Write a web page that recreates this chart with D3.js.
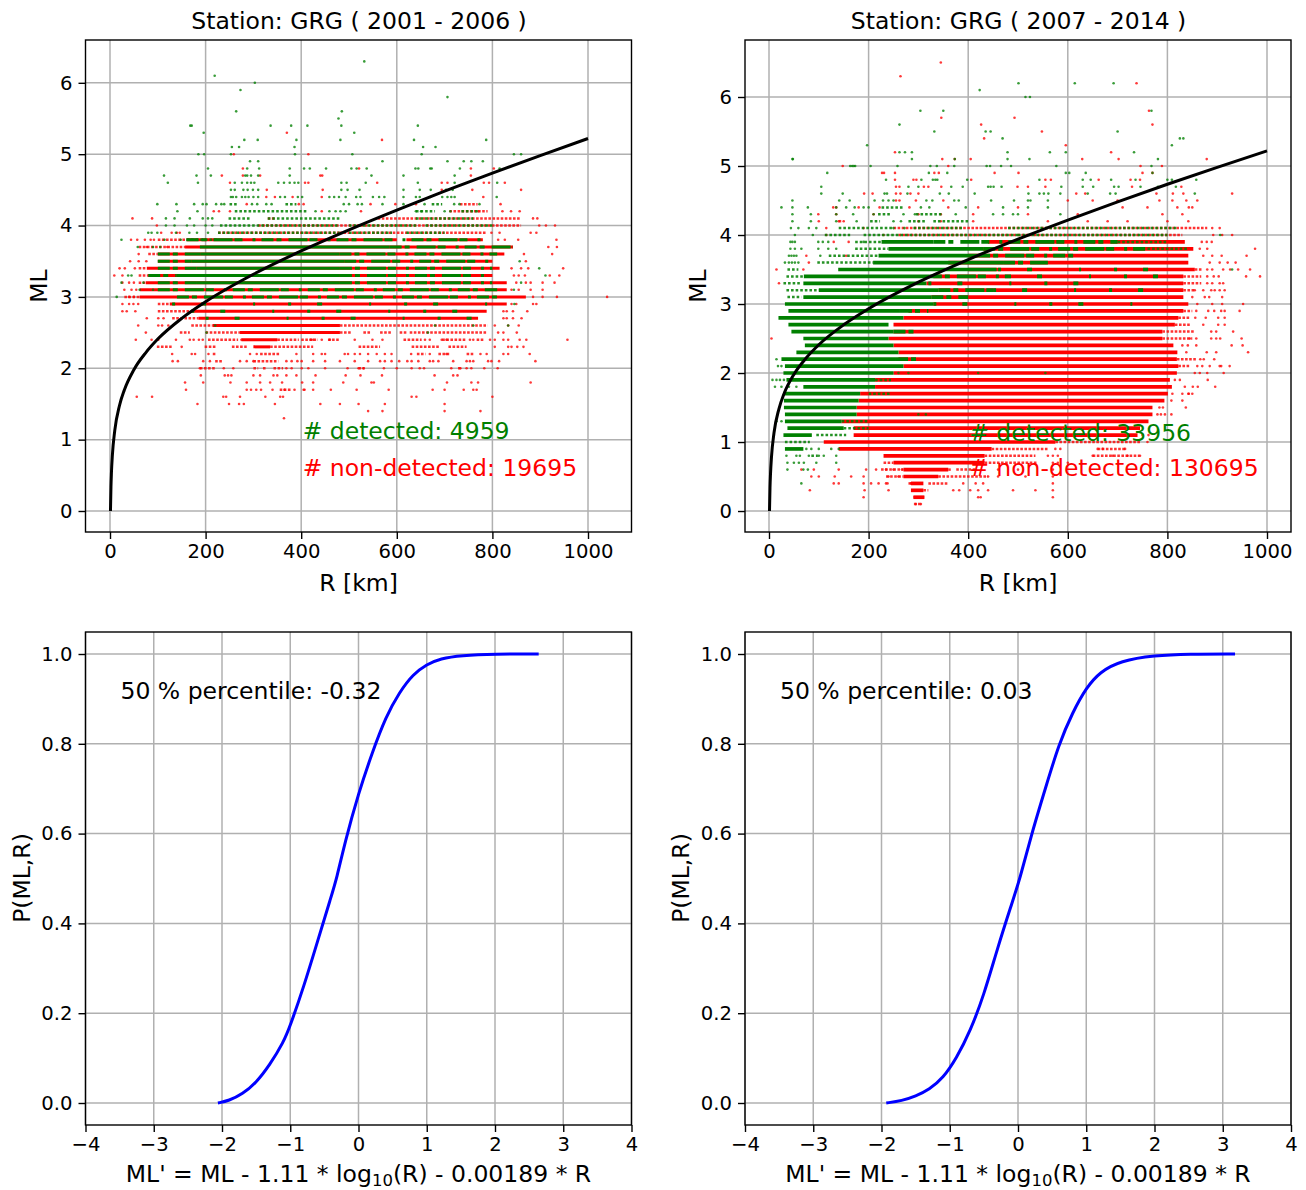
<!DOCTYPE html>
<html><head><meta charset="utf-8"><script src="https://cdn.jsdelivr.net/npm/d3@7"></script>
<style>html,body{margin:0;background:#fff}svg{display:block}text{font-family:"DejaVu Sans",sans-serif}</style></head>
<body><div id="c"></div><script>
// ---- curves
const thresholdR=[1,2,3,5,10,20,30,50,75,100,150,200,300,400,500,600,700,800,900,1000];
const thresholdML=[0,.338,.535,.785,1.13,1.482,1.696,1.98,2.22,2.409,2.699,2.932,3.317,3.644,3.94,4.217,4.481,4.735,4.98,5.22];
const cdfXA=[-2.06,-1.9,-1.7,-1.5,-1.3,-1.1,-1,-.8,-.6,-.4,-.32,-.2,0,.2,.4,.6,.8,1,1.2,1.5,2,2.64];
const cdfPA=[0,.005,.02,.045,.085,.135,.172,.26,.36,.46,.5,.58,.69,.78,.86,.915,.955,.977,.99,.997,1,1];
const cdfXB=[-1.93,-1.7,-1.5,-1.3,-1.1,-.9,-.7,-.5,-.3,-.1,.03,.2,.4,.6,.8,1,1.2,1.5,2,2.5,3.18];
const cdfPB=[0,.005,.015,.03,.055,.1,.16,.24,.345,.44,.5,.6,.7,.8,.87,.925,.96,.985,.997,1,1];
const titles=["Station: GRG ( 2001 - 2006 )","Station: GRG ( 2007 - 2014 )"];
const countLabels=[["# detected: 4959","# non-detected: 19695"],["# detected: 33956","# non-detected: 130695"]];
const percentileLabels=["50 % percentile: -0.32","50 % percentile: 0.03"];
const rTicks=[0,200,400,600,800,1000], mlTicksA=[0,1,2,3,4,5,6], mlTicksB=[0,1,2,3,4,5,6];
const pTicks=[0,.2,.4,.6,.8,1], xTicks=[-4,-3,-2,-1,0,1,2,3,4];

// ---- panel A, 2001-2006: [ML, R start, R end] solid runs
const solidRedA=[[3.8,160,600],[3.8,620,780],[3.7,157,843],[3.6,100,825],[3.5,100,800],[3.4,77,815],[3.3,80,800],[3.2,75,830],[3.1,62,830],[3.0,62,870],[2.9,125,830],[2.8,170,788],[2.7,185,770],[2.6,215,481],[2.5,272,481],[2.4,275,350],[2.3,300,335]];
const solidGreenA=[[3.7,188,585],[3.6,190,480],[3.5,170,490],[3.4,181,481],[3.3,139,481],[3.2,180,481]];
const mixGreenA=[[3.8,160,780],[3.7,585,843],[3.6,100,190],[3.6,480,810],[3.5,100,170],[3.5,490,800],[3.4,100,181],[3.4,481,800],[3.3,80,139],[3.3,481,790],[3.2,100,180],[3.2,481,800],[3.1,100,810],[3.0,140,820]];
const speckGreenA=[[2.9,130,830],[2.8,170,780],[2.7,200,760]];
// loose runs of closely packed dots
const looseRedA=[[4.3,732,769],[4.2,710,790],[4.1,330,345],[4.1,560,860],[4.0,310,860],[3.9,226,480],[3.9,480,788],[3.8,100,160],[3.7,60,157],[3.6,80,100],[3.4,60,77],[3.3,60,80],[3.2,60,75],[3.0,30,62],[2.9,100,125],[2.8,100,170],[2.7,130,185],[2.6,170,215],[2.6,481,790],[2.5,146,167],[2.5,200,272],[2.5,481,506],[2.5,530,545],[2.5,565,590],[2.5,606,620],[2.5,627,788],[2.4,205,268],[2.4,350,395],[2.4,400,435],[2.4,456,480],[2.4,614,652],[2.4,695,746],[2.4,767,781],[2.3,98,129],[2.3,198,222],[2.3,255,286],[2.3,335,425],[2.3,520,565],[2.3,631,690],[2.3,708,746],[2.2,215,222],[2.2,314,356],[2.2,642,660],[2.2,687,711],[2.2,746,760],[2.1,220,237],[2.1,300,352],[2.0,188,220],[2.0,300,310],[2.0,320,328],[2.0,342,362],[2.0,520,533],[2.0,728,735],[1.7,355,380]];
const looseGreenA=[[4.3,250,268],[4.3,367,390],[4.3,673,695],[4.2,261,415],[4.2,640,680],[4.2,735,770],[4.1,248,294],[4.1,330,480],[4.1,640,760],[4.0,230,480],[4.0,500,640],[4.0,660,800],[3.9,226,480],[3.9,500,590],[3.9,620,700],[3.8,160,226]];
const dotsGreenA=[[6.3,[532]],[6.1,[219]],[6.0,[303]],[5.9,[273]],[5.8,[706]],[5.6,[264,485]],[5.5,[478]],[5.4,[168,171,336,379,413,484,644]],[5.3,[196,511]],[5.2,[281,309,390,482,636,787]],[5.1,[255,270,386,655,681]],[5.0,[185,197,253,387,507,652,845,860]],[4.9,[293,310,570,706,740,756,780]],[4.8,[205,287,312,376,406,418,452,505,516,537,639,645,670,673,732,815]],[4.7,[113,181,211,283,287,295,310,376,547,614,721]],[4.6,[121,184,261,276,287,295,302,352,364,376,386,394,484,495,535,644,721,810]],[4.5,[253,261,279,288,299,310,484,497,522,614,648,671,703,717]],[4.4,[253,257,264,276,283,290,300,310,356,366,393,402,459,469,479,493,515,524,550,563,574,614,640,648,670,695,706,714,721,809]],[4.3,[99,139,176,194,202,222,233,239,297,308,327,338,489,500,518,527,570,614,658,720,731,773]],[4.2,[141,183,430,459,472,482,493,640,651,700,712]],[4.1,[117,135,167,194,205,214]],[4.0,[117,135,161,176,200,214]],[3.9,[80,87,99,138,166,182,205]],[3.8,[24,114,148]],[3.7,[58,90,105]],[3.5,[857]],[3.4,[898]],[3.3,[38,45,911]],[3.2,[24,70,860]],[3.1,[62,90,845]],[3.0,[14]],[2.9,[846]],[2.6,[220,680,760,833]],[2.5,[202,665]]];
const dotsRedA=[[5.3,[370]],[5.2,[569]],[5.0,[259,415]],[4.8,[278,521,755,803]],[4.7,[234,278,314,440,444,755]],[4.6,[251,408,415,559,694,706,782,793,826]],[4.5,[328,445,694,758,860]],[4.4,[327,345,382,443,781]],[4.3,[286,395,405,545,597,640,817]],[4.2,[217,228,251,443,525,771,821,839,857]],[4.1,[47,88,885,894]],[4.0,[98,898,912,931]],[3.9,[107,129,140,146,798,815,880,892]],[3.8,[44,57,73,85,92,812,826,854,934]],[3.7,[77,120,917,935]],[3.6,[60,866,925]],[3.5,[42,60,76,870]],[3.4,[20,31,52,840,860,875,948]],[3.3,[9,26,845,855,868,920,940]],[3.2,[26,40,50,850,870,880,905,930]],[3.1,[30,45,55,840,855,880,905]],[3.0,[40,50,885,905,935,1040]],[2.9,[26,40,49,59,840,850,885,892]],[2.8,[26,35,53,823,830,843,873]],[2.7,[77,101,112,823,830,843,861]],[2.6,[59,101,109,122,805,833,855]],[2.5,[75,812,823,851]],[2.4,[54,87,101,138,167,175,186,194,275,420,425,443,460,512,549,570,659,669,694,704,753,760,795,805,823,833,857,871,957]],[2.3,[150,805,833,840,852,865]],[2.2,[130,171,178,206,307,293,390,425,443,450,491,498,512,523,540,558,575,589,630,669,704,775,788,823,833,878]],[2.1,[131,142,195,209,272,286,300,369,380,392,401,425,450,481,512,540,565,575,589,605,622,631,645,669,676,687,718,746,753,760,791,798,814,890]],[2.0,[188,238,258,369,380,401,415,450,497,520,530,573,600,631,648,657,714,733,746,756,783,811]],[1.9,[190,240,247,254,300,314,342,350,369,390,430,493,524,569,679,718,727]],[1.8,[157,195,252,286,314,335,360,402,425,488,547,552,705,756,770,880]],[1.7,[159,286,295,306,316,340,365,386,405,407,425,462,516,583,675,700,740,760,767]],[1.6,[56,88,237,243,272,325,356,362,631,641,800]],[1.5,[183,249,270,280,345,440,481,520,575,700]],[1.4,[540,570,700,775]],[1.3,[364]]];

// ---- panel B, 2007-2014
const solidRedB=[[3.9,440,835],[3.8,430,852],[3.7,400,842],[3.6,360,842],[3.5,400,855],[3.4,330,832],[3.3,316,832],[3.2,340,832],[3.1,326,832],[3.0,330,842],[2.9,280,832],[2.8,270,822],[2.7,250,815],[2.6,250,790],[2.5,240,790],[2.4,250,812],[2.3,260,820],[2.2,260,819],[2.1,270,822],[2.0,250,819],[1.9,213,805],[1.8,213,809],[1.7,183,801],[1.6,180,794],[1.5,176,770],[1.4,176,770],[1.3,146,762],[1.2,170,745],[1.1,170,740],[1.0,110,575],[0.9,140,447],[0.8,230,433],[0.7,250,433],[0.6,270,360],[0.5,270,340],[0.4,285,310],[0.3,285,310],[0.2,290,312]];
const solidGreenB=[[3.9,226,330],[3.8,240,430],[3.7,220,420],[3.6,209,470],[3.5,139,457],[3.4,70,323],[3.3,69,316],[3.2,100,340],[3.1,69,326],[3.0,32,330],[2.9,39,263],[2.8,19,270],[2.7,39,240],[2.6,45,250],[2.5,69,240],[2.4,72,250],[2.3,55,260],[2.2,25,255],[2.1,32,270],[2.0,29,250],[1.9,35,213],[1.8,69,213],[1.7,29,183],[1.6,30,180],[1.5,30,176],[1.4,32,176],[1.3,32,146],[1.2,37,150],[1.1,29,86],[0.9,32,69]];
const mixGreenB=[[3.9,330,700],[3.8,430,760],[3.7,420,620],[3.6,470,560],[3.4,323,480],[3.2,340,450],[3.1,326,400],[2.9,263,320],[2.6,250,300],[2.2,255,300]];
const speckGreenB=[[3.5,460,830],[3.4,480,830],[3.3,320,700],[3.2,450,820],[3.0,330,760]];
const looseRedB=[[4.2,140,145],[4.1,250,880],[4.0,260,830],[3.5,855,870],[3.4,832,868],[3.3,832,868],[3.2,832,855],[2.9,832,850],[2.8,822,845],[2.7,815,845],[2.6,790,855],[2.5,790,850],[2.2,819,860],[2.1,822,845],[1.0,575,745],[0.9,447,560],[0.9,660,715],[0.8,433,535],[0.8,650,744],[0.7,433,540],[0.7,230,250],[0.6,225,270],[0.6,360,365],[0.6,376,415],[0.5,340,440],[0.5,235,270],[0.4,280,285],[0.4,320,360],[0.3,310,320],[0.2,290,312],[0.1,291,306]];
const looseGreenB=[[4.4,226,270],[4.3,219,244],[4.3,295,350],[4.2,203,223],[4.2,280,313],[4.2,330,400],[4.1,140,250],[4.1,290,390],[4.1,480,820],[4.0,112,163],[4.0,190,500],[4.0,500,800],[3.9,173,226],[3.9,700,800],[3.8,173,240],[3.8,760,840],[3.7,120,220],[3.6,97,209],[3.5,37,59],[3.4,35,70],[3.3,29,65],[3.2,35,100],[3.1,37,65],[1.9,213,245],[1.7,200,245],[1.3,146,200],[1.2,150,200],[1.1,95,155],[1.0,32,82],[0.8,85,98]];
const dotsGreenB=[[6.2,[501,614,692]],[6.1,[423]],[6.0,[515,524]],[5.8,[304,350,768]],[5.6,[262]],[5.5,[332,435,445,700]],[5.4,[469,825,832]],[5.3,[197,809]],[5.2,[262,273,287,479,564,596,733]],[5.1,[47,48,287,373,479,523,781]],[5.0,[163,167,170,173,204,258,324,337,372,437,444,466,486,577,768]],[4.9,[117,321,358,596,603,636,770]],[4.8,[235,306,329,334,338,398,543,630,646,687,736,800,809,858]],[4.7,[105,280,300,366,389,440,445,451,467,587,630,651,693,702,746,781,817]],[4.6,[105,148,232,237,278,343,361,413,521,543,552,561,585,640,685,696,855]],[4.5,[47,141,162,212,229,240,250,316,328,372,381,446,492,520,525,560]],[4.4,[25,47,78,135,155,172,190,200,305,322,395,470,520,560]],[4.3,[47,84,135,169,210,270,293,375,450,470,490,500,585]],[4.2,[47,84,135,176,250,265]],[4.1,[44,59,80,95,250,272]],[4.0,[52,88,906]],[3.9,[43,47,52,99,108,119,190]],[3.8,[43,52,65,99,119,135]],[3.7,[40,45,50,55,103]],[3.6,[32,40,46,52,59]],[3.5,[930]],[2.2,[15,30,46]],[2.1,[18,25]],[1.9,[7,15,22,30]],[1.8,[12,25,40,55]],[1.3,[15,25]],[0.9,[75,85,100,125,140]],[0.8,[35,55,62,80,100,110,135]],[0.7,[37,50,60,70,95,135]],[0.6,[37,69,78]],[0.4,[65]],[2.0,[260,280,420,555]],[1.4,[300,315]]];
const dotsRedB=[[6.5,[345]],[6.3,[264]],[6.2,[738]],[5.8,[763]],[5.7,[346,493]],[5.6,[426,770]],[5.5,[548]],[5.4,[432]],[5.3,[596]],[5.2,[253,687]],[5.1,[348,373,405,629,702,879]],[5.0,[148,360,746,789]],[4.9,[227,231,253,332,341,453,501,750,770]],[4.8,[253,290,296,406,555,566,662,726,745]],[4.7,[255,262,311,320,346,499,520,555,729,828]],[4.6,[191,208,255,264,284,300,617,635,778,811,832,930]],[4.5,[255,262,295,350,600,650,700,784,810,838,860]],[4.4,[129,135,180,222,282,360,420,500,710,760,820,843,850]],[4.3,[99,135,210,300,345,410,520,620,790,830]],[4.2,[100,150,140,300,345,410,560,640,680,720,800,842]],[4.1,[115,190,890,905]],[4.0,[115,230,892,910,930]],[3.9,[130,160,869,879,889]],[3.8,[865,976,880]],[3.7,[75,155,872,890,909,959]],[3.6,[80,885,905,921,937]],[3.5,[15,69,880,890,912,926,942,966]],[3.4,[880,893,903,958,986]],[3.3,[20,880,890,905,912]],[3.2,[855,872,888,895,905,915]],[3.1,[850,875,884,910]],[3.0,[860,890,910,952]],[2.9,[858,882,894,908,915,945]],[2.8,[856,877,902,915]],[2.7,[872,902,915]],[2.6,[888,898,932]],[2.5,[5,845,858,888,898,906,949]],[2.4,[830,841,858,929,951]],[2.3,[838,879,898,962]],[2.2,[866,873,894]],[2.1,[860,870,885,905,908,925]],[2.0,[855,865,880,913]],[1.9,[815,825,881]],[1.8,[835,851,861,896]],[1.7,[810,830,843,842,850]],[1.6,[808,830]],[1.5,[784,791,837]],[1.4,[795,808,787,780]],[1.1,[750,762]],[1.0,[760]],[0.9,[575,585,660,670,715]],[0.8,[560,570,580,650,690,720,745]],[0.7,[570,580,600]],[0.6,[65,90,140,195,215,235,250,267,290,460,500,570]],[0.5,[85,100,132,165,190,240,260,290,440,460,515,570]],[0.4,[130,140,190,205,220,235,238,285,390,415,430,570]],[0.3,[82,192,240,370,382,404,420,440,490,535,570]],[0.2,[190,420,425,570]],[0.1,[295,305]]];

const W=1306,H=1190,fs=19.6,fl=23.5;
const svg=d3.select("#c").append("svg").attr("width",W).attr("height",H);
let cid=0;
function makeFrame(box,xs,ys,xt,yt,xf,yf){
  const g=svg.append("g"),id="c"+(cid++);
  g.append("clipPath").attr("id",id).append("rect").attr("x",box.l).attr("y",box.t).attr("width",box.r-box.l).attr("height",box.b-box.t);
  const grid=g.append("g").attr("stroke","#b0b0b0").attr("stroke-width",1.5);
  xt.forEach(v=>grid.append("line").attr("x1",xs(v)).attr("x2",xs(v)).attr("y1",box.t).attr("y2",box.b));
  yt.forEach(v=>grid.append("line").attr("y1",ys(v)).attr("y2",ys(v)).attr("x1",box.l).attr("x2",box.r));
  const plot=g.append("g").attr("clip-path",`url(#${id})`);
  const ax=g.append("g").attr("class","ax");
  const style=(s)=>{s.select(".domain").remove();s.selectAll("line").attr("stroke","#000").attr("stroke-width",1.4);s.selectAll("text").attr("font-size",fs).attr("font-family",'"DejaVu Sans"').attr("fill","#000");};
  ax.append("g").attr("transform",`translate(0,${box.b})`).call(d3.axisBottom(xs).tickValues(xt).tickFormat(xf).tickSize(7).tickPadding(5)).call(style);
  ax.append("g").attr("transform",`translate(${box.l},0)`).call(d3.axisLeft(ys).tickValues(yt).tickFormat(yf).tickSize(7).tickPadding(6)).call(style);
  ax.append("rect").attr("x",box.l).attr("y",box.t).attr("width",box.r-box.l).attr("height",box.b-box.t).attr("fill","none").attr("stroke","#000").attr("stroke-width",1.4);
  return {g,plot};
}
function drawScatter(p,xs,ys,s,bw){
  const bands=(d,col,w,dash,op)=>p.append("g").selectAll("line").data(d).join("line")
    .attr("x1",a=>xs(a[1])).attr("x2",a=>xs(a[2])).attr("y1",a=>ys(a[0])).attr("y2",a=>ys(a[0]))
    .attr("stroke",col).attr("stroke-width",w).attr("stroke-dasharray",dash).attr("opacity",op);
  const dots=(d,col)=>p.append("g").attr("fill",col).selectAll("circle").data(d.flatMap(r=>r[1].map(x=>[r[0],x]))).join("circle")
    .attr("cx",a=>xs(a[1])).attr("cy",a=>ys(a[0])).attr("r",1.3).attr("opacity",.78);
  bands(s.lr,"#ff0000",2.5,"2.6 1.5",.8);
  bands(s.sr,"#ff0000",bw,null,1);
  dots(s.dr,"#ff0000");
  bands(s.lg,"#008000",2.5,"2.6 2",.85);
  bands(s.sg,"#008000",bw,null,1);
  bands(s.mg,"#008000",bw,"12 3 5 7 19 2 8 10 3 6",1);
  bands(s.kg,"#008000",bw,"3 26 5 47 2 33",1);
  dots(s.dg,"#008000");
}
const fmt1=d3.format(".1f"), neg=v=>String(v).replace("-","\u2212");
function topPanel(i,box,domY,yt,sets,bw){
  const xs=d3.scaleLinear().domain([(box.l-box.x0)/box.k,(box.r-box.x0)/box.k]).range([box.l,box.r]);
  const ys=d3.scaleLinear().domain(domY).range([box.b,box.t]);
  const {g,plot}=makeFrame(box,xs,ys,rTicks,yt,d3.format("d"),d3.format("d"));
  drawScatter(plot,xs,ys,sets,bw);
  plot.append("path").datum(d3.zip(thresholdR,thresholdML)).attr("fill","none").attr("stroke","#000").attr("stroke-width",3)
    .attr("d",d3.line().x(d=>xs(d[0])).y(d=>ys(d[1])).curve(d3.curveMonotoneX));
  g.append("text").attr("x",(box.l+box.r)/2+0.5).attr("y",29).attr("text-anchor","middle").attr("font-size",fl).text(titles[i]);
  g.append("text").attr("x",(box.l+box.r)/2).attr("y",591).attr("text-anchor","middle").attr("font-size",fl).text("R [km]");
  g.append("text").attr("transform",`translate(${box.l-39},286) rotate(-90)`).attr("text-anchor","middle").attr("font-size",fl).text("ML");
  const tx=xs(i?402:403);
  g.append("text").attr("x",tx).attr("y",i?441:439).attr("fill","#008000").attr("font-size",fl).text(countLabels[i][0]);
  g.append("text").attr("x",tx).attr("y",476).attr("fill","#ff0000").attr("font-size",fl).text(countLabels[i][1]);
}
function bottomPanel(i,box,cx,cp){
  const xs=d3.scaleLinear().domain([-4,4]).range([box.l,box.r]);
  const ys=d3.scaleLinear().domain([(1103-box.b)/449,(1103-box.t)/449]).range([box.b,box.t]);
  const {g,plot}=makeFrame(box,xs,ys,xTicks,pTicks,neg,fmt1);
  plot.append("path").datum(d3.zip(cx,cp)).attr("fill","none").attr("stroke","#0000ff").attr("stroke-width",3)
    .attr("d",d3.line().x(d=>xs(d[0])).y(d=>ys(d[1])).curve(d3.curveBasis));
  g.append("text").attr("x",box.l+35).attr("y",699).attr("font-size",fl).text(percentileLabels[i]);
  g.append("text").attr("transform",`translate(${box.l-56},878) rotate(-90)`).attr("text-anchor","middle").attr("font-size",fl).text("P(ML,R)");
  const t=g.append("text").attr("x",(box.l+box.r)/2).attr("y",1182).attr("text-anchor","middle").attr("font-size",fl);
  t.append("tspan").text("ML' = ML - 1.11 * log");
  t.append("tspan").attr("dy",3.5).attr("font-size",16.5).text("10");
  t.append("tspan").attr("dy",-3.5).text("(R) - 0.00189 * R");
}
topPanel(0,{l:85.5,r:631.5,t:40,b:532,x0:110,k:.478},[-.2944,6.6],mlTicksA,{sr:solidRedA,sg:solidGreenA,mg:mixGreenA,kg:speckGreenA,lr:looseRedA,lg:looseGreenA,dr:dotsRedA,dg:dotsGreenA},3);
topPanel(1,{l:745,r:1291,t:40,b:532,x0:769,k:.498},[-.304,6.826],mlTicksB,{sr:solidRedB,sg:solidGreenB,mg:mixGreenB,kg:speckGreenB,lr:looseRedB,lg:looseGreenB,dr:dotsRedB,dg:dotsGreenB},3.7);
bottomPanel(0,{l:85.5,r:631.5,t:632,b:1125},cdfXA,cdfPA);
bottomPanel(1,{l:745,r:1291,t:632,b:1125},cdfXB,cdfPB);
</script></body></html>
